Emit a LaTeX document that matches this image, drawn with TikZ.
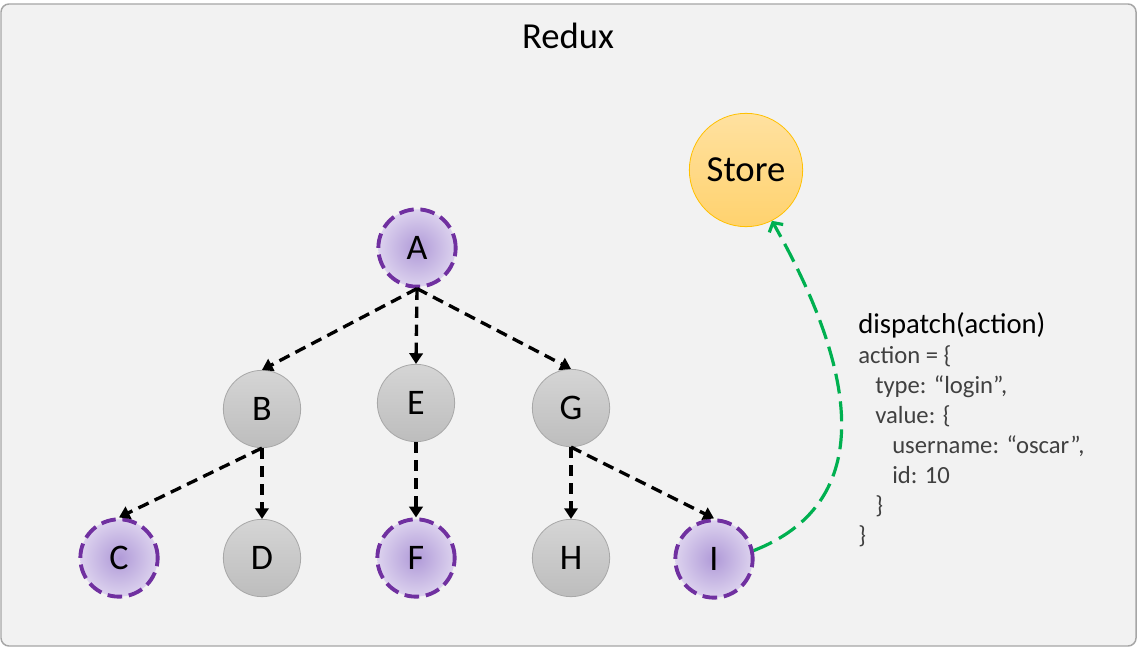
\documentclass[tikz,border=0pt]{standalone}
\usepackage{fontspec}
\setmainfont{Carlito}
\usetikzlibrary{arrows.meta,shapes}
\definecolor{framegray}{HTML}{A6A6A6}
\definecolor{bggray}{HTML}{F2F2F2}
\definecolor{visitline}{HTML}{7030A0}
\definecolor{visitin}{HTML}{B09AD8}
\definecolor{visitout}{HTML}{DCD2EE}
\definecolor{plaintop}{HTML}{D5D5D5}
\definecolor{plainbot}{HTML}{BDBDBD}
\definecolor{plainline}{HTML}{A8A8A8}
\definecolor{storetop}{HTML}{FFE1A0}
\definecolor{storebot}{HTML}{FFD26E}
\definecolor{storeline}{HTML}{FFC000}
\definecolor{dispatchgreen}{HTML}{00B050}
\definecolor{codegray}{HTML}{404040}
\tikzset{
  plain/.style={circle, draw=plainline, line width=0.6pt, top color=plaintop,
    bottom color=plainbot, minimum size=58pt, inner sep=0pt,
    font=\fontsize{27}{32}\selectfont},
  visited/.style={circle, draw=visitline, line width=2.9pt,
    dash pattern=on 11pt off 5pt, inner color=visitin, outer color=visitout,
    minimum size=58pt, inner sep=0pt, font=\fontsize{27}{32}\selectfont},
  storebox/.style={circle, draw=storeline, line width=0.6pt, top color=storetop,
    bottom color=storebot, minimum size=85pt, inner sep=0pt,
    font=\fontsize{27.5}{32}\selectfont},
  link/.style={-{Triangle[width=10pt,length=8pt]}, line width=2.5pt,
    dash pattern=on 8.5pt off 5pt},
  dispatchlink/.style={-{Straight Barb[length=5pt,width=12pt]}, dispatchgreen,
    line width=2.4pt, dash pattern=on 15pt off 6pt},
}

\begin{document}
\begin{tikzpicture}[x=0.75pt,y=-0.75pt]
    \useasboundingbox (0,0) rectangle (1137,648);
    \draw[framegray, fill=bggray, line width=1.1pt, rounded corners=6pt] (1,4) rectangle (1136,646);

    \node[font=\fontsize{27.5}{32}\selectfont] (title) at (568,36) {Redux};

    \node[visited] (A) at (417,248) {A} ;
    \node[plain] (B) at (262,409) {B} ;
    \node[plain] (E) at (416,403) {E} ;
    \node[plain] (G) at (571,408) {G} ;
    \node[visited] (C) at (119,558) {C} ;
    \node[plain] (D) at (262,558) {D} ;
    \node[visited] (F) at (416,558) {F} ;
    \node[plain] (H) at (571,558) {H} ;
    \node[visited] (I) at (714,559) {I} ;
    \node[storebox] (Store) at (746,170) {Store} ;

    \node[anchor=base west, inner sep=0pt, font=\fontsize{21.5}{26}\selectfont] (dispatch) at (858,333) {dispatch(action)} ;
    \node[anchor=base west, inner sep=0pt, align=left, text=codegray,
      font=\fontsize{18.5}{22.5}\selectfont] (action) at (858,543)
      {action = \{\\
       \hspace*{12.75pt}type: “login”,\\
       \hspace*{12.75pt}value: \{\\
       \hspace*{25.5pt}username: “oscar”,\\
       \hspace*{25.5pt}id: 10\\
       \hspace*{12.75pt}\}\\
       \}} ;

    \path[link] (A.south) edge (B.north) ;
    \path[link] (A.south) edge (E.north) ;
    \path[link] (A.south) edge (G.north) ;
    \path[link] (B.south) edge (C.north) ;
    \path[link] (B.south) edge (D.north) ;
    \path[link] (E.south) edge (F.north) ;
    \path[link] (G.south) edge (H.north) ;
    \path[link] (G.south) edge (I.north) ;
    \draw[dispatchlink] (I.12) .. controls (870,505) and (865,385) .. (Store.-63) ;
\end{tikzpicture}
\end{document}
